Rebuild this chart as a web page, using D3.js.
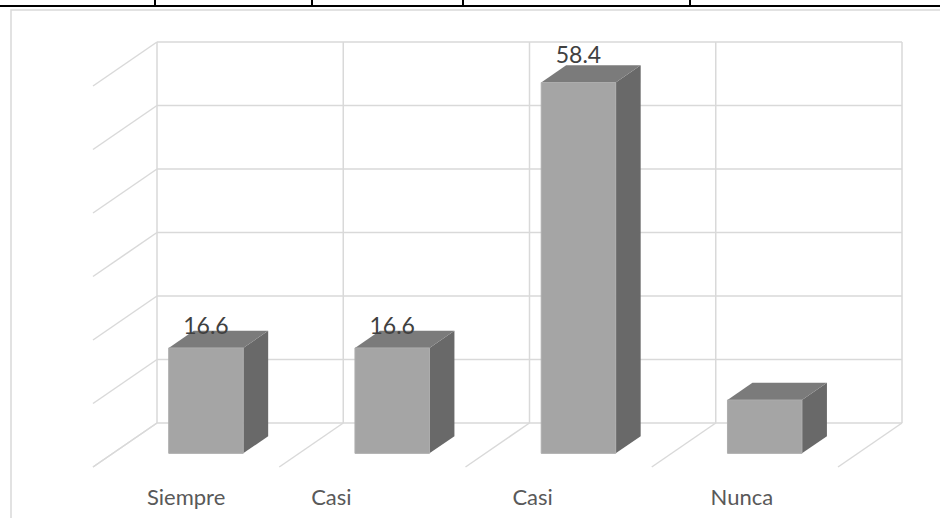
<!DOCTYPE html>
<html>
<head>
<meta charset="utf-8">
<script src="https://cdn.jsdelivr.net/npm/d3@7"></script>
<style>
  body { margin: 0; background: #fff; }
  svg { display: block; }
</style>
</head>
<body>
<svg id="chart" width="940" height="518"></svg>
<script>
// Survey responses (%) per frequency category
const categories = ["Siempre", "Casi siempre", "Casi nunca", "Nunca"];
const axisLabels = ["Siempre", "Casi", "Casi", "Nunca"];
const values = [16.6, 16.6, 58.4, 8.4];
const valueLabels = ["16.6", "16.6", "58.4", null];
const yTicks = [0, 10, 20, 30, 40, 50, 60];

const svg = d3.select("#chart");
const grid = "#d9d9d9";

// Page frame: document table rule above the chart and the chart area border
const frame = svg.append("g");
frame.append("line").attr("x1", 0).attr("x2", 940).attr("y1", 6).attr("y2", 6)
  .attr("stroke", "#000").attr("stroke-width", 2);
[155, 312, 463, 690].forEach(x => {
  frame.append("line").attr("x1", x).attr("x2", x).attr("y1", 0).attr("y2", 6)
    .attr("stroke", "#000").attr("stroke-width", 2);
});
frame.append("path").attr("d", "M11,518 L11,10 L940,10")
  .attr("fill", "none").attr("stroke", grid).attr("stroke-width", 1.5);

// Back wall plot box and oblique depth projection
const x = d3.scaleBand().domain(categories).range([157, 902]).padding(0);
const y = d3.scaleLinear().domain([0, 60]).range([423, 42]);
const depth = { dx: -64, dy: 44 };
const P = (px, py, t) => [px + t * depth.dx, py + t * depth.dy];
const bw = x.bandwidth();
const boundaries = categories.map(c => x(c)).concat([x.range()[1]]);

const g = svg.append("g").attr("fill", "none").attr("stroke", grid).attr("stroke-width", 1.5);
const line = d3.line();

// Back wall horizontal gridlines
yTicks.forEach(v => {
  g.append("path").attr("d", line([[x.range()[0], y(v)], [x.range()[1], y(v)]]));
});
// Back wall verticals at category boundaries
boundaries.forEach(bx => {
  g.append("path").attr("d", line([[bx, y(0)], [bx, y(60)]]));
});
// Side wall gridlines
yTicks.forEach(v => {
  g.append("path").attr("d", line([P(x.range()[0], y(v), 0), P(x.range()[0], y(v), 1)]));
});
// Floor lines
boundaries.forEach(bx => {
  g.append("path").attr("d", line([P(bx, y(0), 0), P(bx, y(0), 1)]));
});

// 3D columns
const t0 = 0.3, t1 = 0.69;
const barGap = 0.3;
const bars = svg.append("g");
categories.forEach((c, i) => {
  const xl = x(c) + bw * barGap;
  const xr = x(c) + bw * (1 - barGap);
  const yv = y(values[i]);
  const y0 = y(0);
  const poly = pts => "M" + pts.map(p => p.join(",")).join("L") + "Z";
  // right side
  bars.append("path")
    .attr("d", poly([P(xr, yv, t1), P(xr, yv, t0), P(xr, y0, t0), P(xr, y0, t1)]))
    .attr("fill", "#696969");
  // top
  bars.append("path")
    .attr("d", poly([P(xl, yv, t1), P(xr, yv, t1), P(xr, yv, t0), P(xl, yv, t0)]))
    .attr("fill", "#7b7b7b");
  // front
  bars.append("path")
    .attr("d", poly([P(xl, yv, t1), P(xr, yv, t1), P(xr, y0, t1), P(xl, y0, t1)]))
    .attr("fill", "#a5a5a5").attr("stroke", "#adadad").attr("stroke-width", 1);
});

// Value labels above columns
categories.forEach((c, i) => {
  if (!valueLabels[i]) return;
  const front = P(x(c) + bw / 2, y(values[i]), t1);
  svg.append("text")
    .attr("x", front[0])
    .attr("y", front[1] - 12 - values[i] * 0.13)
    .attr("text-anchor", "middle")
    .attr("font-family", "Lato, 'Open Sans', sans-serif")
    .attr("font-size", 23)
    .attr("fill", "#404040")
    .text(valueLabels[i]);
});

// Category axis labels
const labelShift = [0, -41, -26, -3];
categories.forEach((c, i) => {
  const front = P(x(c) + bw / 2, y(0), 1);
  svg.append("text")
    .attr("x", front[0] + labelShift[i])
    .attr("y", 505)
    .attr("text-anchor", "middle")
    .attr("font-family", "Lato, 'Open Sans', sans-serif")
    .attr("font-size", 22)
    .attr("fill", "#595959")
    .text(axisLabels[i]);
});
</script>
</body>
</html>
